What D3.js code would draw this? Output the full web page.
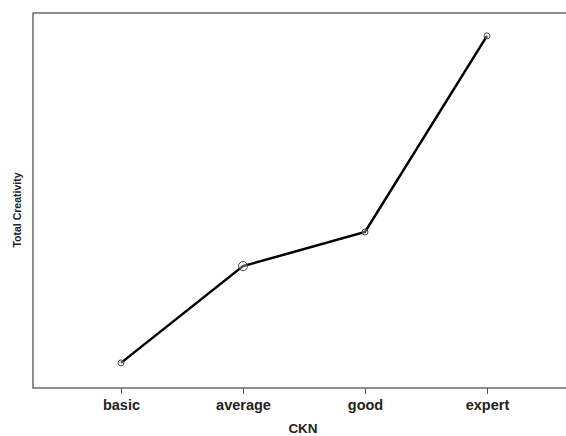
<html>
<script src='https://d3js.org/d3.v7.min.js'></script>
<style>
body {margin:0; background:white;}
text {font-family: "Liberation Sans", Arial, sans-serif; font-weight: bold; fill: #222;}
</style>
<body>
<svg width=566 height=436></svg>
<script>
// CKN levels and Total Creativity (arbitrary units, no y ticks in source)
const levels = ["basic", "average", "good", "expert"];
const creativity = [6.7, 32.5, 41.6, 93.9];
const markerSize = [3, 4.5, 3, 3];

const box = {left: 33, top: 13, right: 572, bottom: 388};

const svg = d3.select("svg");

const xScale = d3.scalePoint().domain(levels).range([121, 487]);
const yScale = d3.scaleLinear().domain([0, 100]).range([box.bottom, box.top]);

// frame
svg.append("rect")
  .attr("x", box.left).attr("y", box.top)
  .attr("width", box.right - box.left).attr("height", box.bottom - box.top)
  .attr("fill", "none").attr("stroke", "#6a6a6a").attr("stroke-width", 1.5);

// bottom axis
const xAxis = svg.append("g")
  .attr("transform", "translate(0," + box.bottom + ")")
  .call(d3.axisBottom(xScale).tickSize(6).tickPadding(6));
xAxis.select(".domain").remove();
xAxis.selectAll("line").attr("stroke", "#555");
xAxis.selectAll("text").style("font-size", "14.5px").attr("fill", "#222")
  .style("font-family", "'Liberation Sans', Arial, sans-serif").style("font-weight", "bold");

const data = levels.map((d, i) => ({level: d, value: creativity[i], r: markerSize[i]}));

const line = d3.line().x(d => xScale(d.level)).y(d => yScale(d.value));
svg.append("path").datum(data)
  .attr("d", line).attr("fill", "none").attr("stroke", "black").attr("stroke-width", 2.5);

svg.selectAll("circle").data(data).enter().append("circle")
  .attr("cx", d => xScale(d.level)).attr("cy", d => yScale(d.value))
  .attr("r", d => d.r)
  .attr("fill", "white").attr("fill-opacity", 0.3)
  .attr("stroke", "#444").attr("stroke-width", 1);

// axis titles
svg.append("text")
  .attr("x", 303).attr("y", 433)
  .style("text-anchor", "middle").style("font-size", "13.5px")
  .text("CKN");

svg.append("text")
  .attr("transform", "translate(21,210)rotate(-90)")
  .style("text-anchor", "middle").style("font-size", "10.5px")
  .text("Total Creativity");
</script>
</body>
</html>
